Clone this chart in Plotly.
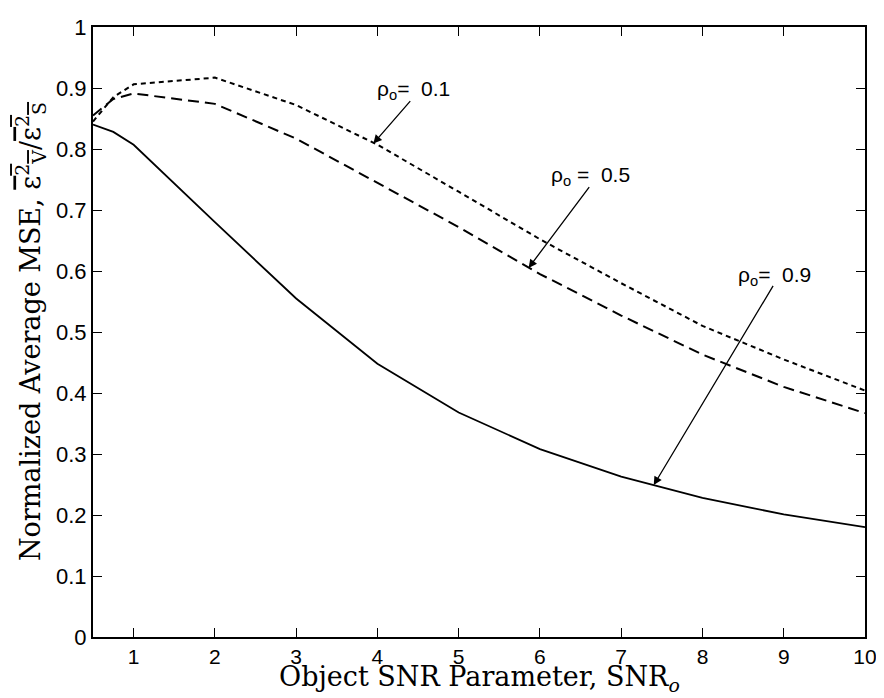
import plotly.graph_objects as go

# ---- data ----
snr = [0.5, 0.75, 1, 2, 3, 4, 5, 6, 7, 8, 9, 10]
mse_rho01 = [0.845, 0.885, 0.906, 0.917, 0.872, 0.807, 0.730, 0.652, 0.580, 0.510, 0.455, 0.404]
mse_rho05 = [0.855, 0.882, 0.891, 0.874, 0.817, 0.745, 0.672, 0.595, 0.527, 0.463, 0.410, 0.367]
mse_rho09 = [0.840, 0.828, 0.807, 0.680, 0.555, 0.448, 0.368, 0.308, 0.263, 0.228, 0.201, 0.180]

x_ticks = [1, 2, 3, 4, 5, 6, 7, 8, 9, 10]
y_ticks = [0, 0.1, 0.2, 0.3, 0.4, 0.5, 0.6, 0.7, 0.8, 0.9, 1]
y_tick_text = ["0", "0.1", "0.2", "0.3", "0.4", "0.5", "0.6", "0.7", "0.8", "0.9", "1"]

labels = ["ρ<sub>o</sub>=\u00a0\u00a00.1", "ρ<sub>o</sub> =\u00a0\u00a00.5", "ρ<sub>o</sub>=\u00a0\u00a00.9"]
label_pos = [(4.44, 0.896), (6.62, 0.756), (8.89, 0.591)]
arrow_tail = [(4.42, 0.881), (6.62, 0.740), (8.88, 0.578)]
arrow_tip = [(3.95, 0.809), (5.86, 0.605), (7.40, 0.249)]

x_title = "Object SNR Parameter, SNR<sub><i>o</i></sub>"
y_title = ("Normalized Average MSE, "
           "<span style='text-decoration:overline'>ε<sup>2</sup><sub>V</sub></span>"
           "/<span style='text-decoration:overline'>ε<sup>2</sup><sub>S</sub></span>")

SANS = "Liberation Sans, Arial, sans-serif"
SERIF = "DejaVu Serif, Liberation Serif, serif"

fig = go.Figure()
fig.add_trace(go.Scatter(x=snr, y=mse_rho01, mode="lines",
                         line=dict(color="black", width=2, dash="5px,4px"),
                         showlegend=False))
fig.add_trace(go.Scatter(x=snr, y=mse_rho05, mode="lines",
                         line=dict(color="black", width=2, dash="11px,6px"),
                         showlegend=False))
fig.add_trace(go.Scatter(x=snr, y=mse_rho09, mode="lines",
                         line=dict(color="black", width=1.8),
                         showlegend=False))

annotations = []
for txt, (lx, ly), (tx, ty), (hx, hy) in zip(labels, label_pos, arrow_tail, arrow_tip):
    annotations.append(dict(x=lx, y=ly, xref="x", yref="y", text=txt, showarrow=False,
                            font=dict(family=SANS, size=21, color="black"),
                            xanchor="center", yanchor="middle"))
    annotations.append(dict(x=hx, y=hy, xref="x", yref="y", ax=tx, ay=ty,
                            axref="x", ayref="y", text="", showarrow=True,
                            arrowhead=2, arrowsize=1.3, arrowwidth=1.3,
                            arrowcolor="black"))

# axis titles placed as annotations for exact positioning
annotations.append(dict(x=0.5, y=-0.0683, xref="paper", yref="paper", text=x_title,
                        showarrow=False, xanchor="center", yanchor="middle",
                        font=dict(family=SERIF, size=27, color="black")))
annotations.append(dict(x=-0.0815, y=0.5, xref="paper", yref="paper", text=y_title,
                        showarrow=False, xanchor="center", yanchor="middle",
                        textangle=-90,
                        font=dict(family=SERIF, size=27, color="black")))

fig.update_layout(
    width=876, height=690,
    paper_bgcolor="white", plot_bgcolor="white",
    margin=dict(l=85, r=18, t=7, b=61),
    annotations=annotations,
    xaxis=dict(range=[0.5, 10], tickmode="array", tickvals=x_ticks,
               ticks="inside", ticklen=9, tickwidth=1.4, tickcolor="black",
               showline=True, linecolor="black", linewidth=2, mirror="ticks",
               showgrid=False, zeroline=False,
               ticklabeloverflow="allow",
               tickfont=dict(family=SANS, size=21, color="black")),
    yaxis=dict(range=[0, 1], tickmode="array", tickvals=y_ticks, ticktext=y_tick_text,
               ticks="inside", ticklen=9, tickwidth=1.4, tickcolor="black",
               showline=True, linecolor="black", linewidth=2, mirror="ticks",
               showgrid=False, zeroline=False, ticklabeloverflow="allow",
               tickfont=dict(family=SANS, size=22, color="black")),
)

fig.write_html("out.html")
